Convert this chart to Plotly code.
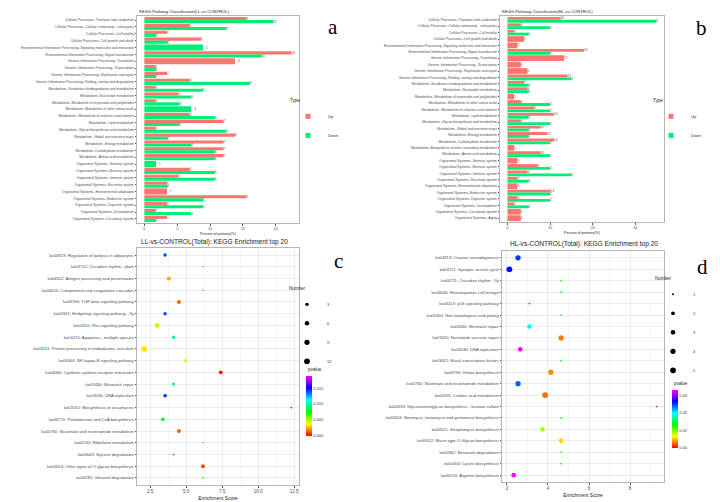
import math
import plotly.graph_objects as go

W, H = 720, 502

# ---------------- Panel a: KEGG classification LL-vs-CONTROL ----------------
a_categories = [
    "Cellular Processes--Transport and catabolism",
    "Cellular Processes--Cellular community - eukaryotes",
    "Cellular Processes--Cell motility",
    "Cellular Processes--Cell growth and death",
    "Environmental Information Processing--Signaling molecules and interaction",
    "Environmental Information Processing--Signal transduction",
    "Genetic Information Processing--Translation",
    "Genetic Information Processing--Transcription",
    "Genetic Information Processing--Replication and repair",
    "Genetic Information Processing--Folding, sorting and degradation",
    "Metabolism--Xenobiotics biodegradation and metabolism",
    "Metabolism--Nucleotide metabolism",
    "Metabolism--Metabolism of terpenoids and polyketides",
    "Metabolism--Metabolism of other amino acids",
    "Metabolism--Metabolism of cofactors and vitamins",
    "Metabolism--Lipid metabolism",
    "Metabolism--Glycan biosynthesis and metabolism",
    "Metabolism--Global and overview maps",
    "Metabolism--Energy metabolism",
    "Metabolism--Carbohydrate metabolism",
    "Metabolism--Amino acid metabolism",
    "Organismal Systems--Sensory system",
    "Organismal Systems--Nervous system",
    "Organismal Systems--Immune system",
    "Organismal Systems--Excretory system",
    "Organismal Systems--Environmental adaptation",
    "Organismal Systems--Endocrine system",
    "Organismal Systems--Digestive system",
    "Organismal Systems--Development",
    "Organismal Systems--Circulatory system",
]
a_up_counts = [9, 4, 2, 5, 0, 13, 8, 1, 2, 4, 1, 3, 1, 0, 4, 7, 1, 8, 7, 7, 7, 0, 4, 3, 2, 2, 9, 2, 1, 2]
a_down_counts = [11, 7, 1, 2, 5, 10, 0, 1, 1, 9, 5, 4, 3, 4, 6, 3, 7, 2, 4, 6, 6, 1, 6, 6, 2, 0, 5, 5, 4, 1]
a_up_total = 58
a_down_total = 56

# ---------------- Panel b: KEGG classification HL-vs-CONTROL ----------------
b_categories = [
    "Cellular Processes--Transport and catabolism",
    "Cellular Processes--Cellular community - eukaryotes",
    "Cellular Processes--Cell motility",
    "Cellular Processes--Cell growth and death",
    "Environmental Information Processing--Signaling molecules and interaction",
    "Environmental Information Processing--Signal transduction",
    "Genetic Information Processing--Translation",
    "Genetic Information Processing--Transcription",
    "Genetic Information Processing--Replication and repair",
    "Genetic Information Processing--Folding, sorting and degradation",
    "Metabolism--Xenobiotics biodegradation and metabolism",
    "Metabolism--Nucleotide metabolism",
    "Metabolism--Metabolism of terpenoids and polyketides",
    "Metabolism--Metabolism of other amino acids",
    "Metabolism--Metabolism of cofactors and vitamins",
    "Metabolism--Lipid metabolism",
    "Metabolism--Glycan biosynthesis and metabolism",
    "Metabolism--Global and overview maps",
    "Metabolism--Energy metabolism",
    "Metabolism--Carbohydrate metabolism",
    "Metabolism--Biosynthesis of other secondary metabolites",
    "Metabolism--Amino acid metabolism",
    "Organismal Systems--Sensory system",
    "Organismal Systems--Nervous system",
    "Organismal Systems--Immune system",
    "Organismal Systems--Excretory system",
    "Organismal Systems--Environmental adaptation",
    "Organismal Systems--Endocrine system",
    "Organismal Systems--Digestive system",
    "Organismal Systems--Development",
    "Organismal Systems--Circulatory system",
    "Organismal Systems--Aging",
]
b_up_counts = [16, 4, 2, 5, 3, 23, 17, 4, 6, 18, 5, 6, 2, 4, 8, 14, 4, 10, 12, 14, 2, 10, 3, 9, 6, 3, 3, 13, 3, 2, 4, 4]
b_down_counts = [7, 2, 1, 0, 0, 2, 0, 0, 0, 3, 1, 1, 0, 2, 2, 1, 2, 1, 1, 2, 0, 2, 0, 2, 3, 1, 0, 2, 2, 1, 0, 0]
b_up_total = 128
b_down_total = 20

# ---------------- Panel c: LL-vs-CONTROL enrichment ----------------
c_pathways = [
    "ko04923: Regulation of lipolysis in adipocytes",
    "ko04712: Circadian rhythm - plant",
    "ko04612: Antigen processing and presentation",
    "ko04610: Complement and coagulation cascades",
    "ko04350: TGF-beta signaling pathway",
    "ko04341: Hedgehog signaling pathway - fly",
    "ko04310: Wnt signaling pathway",
    "ko04215: Apoptosis - multiple species",
    "ko04141: Protein processing in endoplasmic reticulum",
    "ko04064: NF-kappa B signaling pathway",
    "ko04060: Cytokine-cytokine receptor interaction",
    "ko03430: Mismatch repair",
    "ko03030: DNA replication",
    "ko01051: Biosynthesis of ansamycins",
    "ko00770: Pantothenate and CoA biosynthesis",
    "ko00760: Nicotinate and nicotinamide metabolism",
    "ko00740: Riboflavin metabolism",
    "ko00643: Styrene degradation",
    "ko00514: Other types of O-glycan biosynthesis",
    "ko00281: Geraniol degradation",
]
c_score = [3.54, 6.17, 3.8, 6.17, 4.5, 3.54, 2.99, 4.13, 2.1, 4.95, 7.4, 4.13, 3.54, 12.3, 3.38, 4.5, 6.17, 4.13, 6.17, 6.17]
c_number = [3, 1, 5, 1, 5, 3, 7, 3, 12, 3, 4, 3, 3, 1, 4, 5, 1, 1, 4, 1]
c_pvalue = [0.014, 0.0068, 0.0025, 0.0068, 0.0015, 0.014, 0.0045, 0.0094, 0.0034, 0.0043,
            0.0004, 0.0094, 0.0145, 0.0002, 0.0083, 0.0015, 0.0068, 0.0188, 0.001, 0.0068]
c_number_breaks = [3, 6, 9, 12]
c_p_ticks = [0.0, 0.005, 0.010, 0.015]

# ---------------- Panel d: HL-vs-CONTROL enrichment ----------------
d_pathways = [
    "ko04913: Ovarian steroidogenesis",
    "ko04721: Synaptic vesicle cycle",
    "ko04711: Circadian rhythm - fly",
    "ko04640: Hematopoietic cell lineage",
    "ko04115: p53 signaling pathway",
    "ko03450: Non-homologous end-joining",
    "ko03430: Mismatch repair",
    "ko03420: Nucleotide excision repair",
    "ko03030: DNA replication",
    "ko03022: Basal transcription factors",
    "ko00790: Folate biosynthesis",
    "ko00760: Nicotinate and nicotinamide metabolism",
    "ko00591: Linoleic acid metabolism",
    "ko00533: Glycosaminoglycan biosynthesis - keratan sulfate",
    "ko00524: Neomycin, kanamycin and gentamicin biosynthesis",
    "ko00521: Streptomycin biosynthesis",
    "ko00512: Mucin type O-Glycan biosynthesis",
    "ko00362: Benzoate degradation",
    "ko00300: Lysine biosynthesis",
    "ko00220: Arginine biosynthesis",
]
d_score = [2.54, 2.12, 4.64, 4.64, 3.1, 4.64, 3.1, 4.64, 2.65, 4.64, 4.14, 2.54, 3.86, 9.29, 4.64, 3.73, 4.64, 4.64, 4.64, 2.33]
d_number = [4, 5, 1, 1, 1, 1, 3, 4, 3, 1, 4, 4, 5, 1, 1, 3, 3, 1, 1, 3]
d_pvalue = [0.025, 0.026, 0.013, 0.013, 0.033, 0.013, 0.02, 0.003, 0.033, 0.013,
            0.0035, 0.024, 0.0028, 0.0003, 0.013, 0.009, 0.0055, 0.013, 0.013, 0.033]
d_number_breaks = [1, 2, 3, 4, 5]
d_p_ticks = [0.0, 0.01, 0.02, 0.03]

# ---------------- styling ----------------
UP_COLOR = "#F8766D"
DOWN_COLOR = "#00EE76"
FONT = "Liberation Sans, Arial, sans-serif"
RAINBOW = [[0.0, "#FF0000"], [0.2, "#FFFF00"], [0.4, "#00FF00"],
           [0.6, "#00FFFF"], [0.8, "#0000FF"], [1.0, "#FF00FF"]]
BORDER = "#B5B5B5"
GRID = "#EBEBEB"
TICKTXT = "#4D4D4D"


def dx(x0, x1):
    return [x0 / W, x1 / W]


def dy(y0, y1):
    return [1 - y1 / H, 1 - y0 / H]


fig = go.Figure()


def add_bar_panel(cats, up, down, up_tot, down_tot, xa, ya, legend):
    up_pct = [u / up_tot * 100 if u else None for u in up]
    down_pct = [d / down_tot * 100 if d else None for d in down]
    up_off = [-0.45 for _ in up]
    up_w = [0.45 if d else 0.9 for d in down]
    down_off = [0.0 if u else -0.45 for u in up]
    down_w = [0.45 if u else 0.9 for u in up]
    for vals, cnt, off, wid, col in [(up_pct, up, up_off, up_w, UP_COLOR),
                                     (down_pct, down, down_off, down_w, DOWN_COLOR)]:
        fig.add_trace(go.Bar(
            y=cats, x=vals, orientation="h", offset=off, width=wid,
            marker=dict(color=col, line=dict(width=0)),
            text=[str(c) if c else "" for c in cnt], textposition="outside",
            textfont=dict(size=3, color="#555555", family=FONT),
            constraintext="none", cliponaxis=False,
            xaxis=xa, yaxis=ya, showlegend=False, hoverinfo="skip"))
    for name, col in [("Up", UP_COLOR), ("Down", DOWN_COLOR)]:
        fig.add_trace(go.Scatter(
            x=[None], y=[None], mode="markers", name=name,
            marker=dict(symbol="square", size=5, color=col),
            xaxis=xa, yaxis=ya, legend=legend, showlegend=True))


def size_map(n, lo, hi, dmin=1.7, dmax=5.8):
    return dmin + (dmax - dmin) * math.sqrt((n - lo) / (hi - lo))


def add_dot_panel(paths, score, number, pvalue, breaks, xa, ya, legend, cax):
    lo, hi = min(number), max(number)
    fig.add_trace(go.Scatter(
        x=score, y=paths, mode="markers",
        marker=dict(size=[size_map(n, lo, hi) for n in number], color=pvalue,
                    coloraxis=cax, line=dict(width=0), opacity=1),
        xaxis=xa, yaxis=ya, showlegend=False, hoverinfo="skip"))
    for b in breaks:
        fig.add_trace(go.Scatter(
            x=[None], y=[None], mode="markers", name=str(b),
            marker=dict(size=size_map(b, lo, hi), color="black"),
            xaxis=xa, yaxis=ya, legend=legend, showlegend=True))


add_bar_panel(a_categories, a_up_counts, a_down_counts, a_up_total, a_down_total, "x", "y", "legend")
add_bar_panel(b_categories, b_up_counts, b_down_counts, b_up_total, b_down_total, "x2", "y2", "legend2")
add_dot_panel(c_pathways, c_score, c_number, c_pvalue, c_number_breaks, "x3", "y3", "legend3", "coloraxis")
add_dot_panel(d_pathways, d_score, d_number, d_pvalue, d_number_breaks, "x4", "y4", "legend4", "coloraxis2")


def bar_xaxis(domain, rng, tickvals, anchor):
    return dict(domain=domain, range=rng, tickvals=tickvals, anchor=anchor,
                ticks="outside", ticklen=2, tickwidth=0.5, tickcolor="#555555",
                tickfont=dict(size=3.6, color=TICKTXT, family=FONT),
                showgrid=False, zeroline=False, showline=True, mirror=True,
                linecolor=BORDER, linewidth=0.8,
                title=dict(text="Percent of proteins(%)", standoff=2,
                           font=dict(size=3.6, color="#222222", family=FONT)))


def cat_yaxis(domain, cats, anchor, fsize, grid):
    n = len(cats)
    return dict(domain=domain, type="category", categoryorder="array", categoryarray=cats,
                range=[n - 0.4, -0.6], anchor=anchor,
                ticks="outside", ticklen=1.5, tickwidth=0.5, tickcolor="#555555",
                tickfont=dict(size=fsize, color=TICKTXT, family=FONT),
                showgrid=grid, gridcolor=GRID, gridwidth=0.6,
                zeroline=False, showline=True, mirror=True, linecolor=BORDER, linewidth=0.8)


def dot_xaxis(domain, rng, tick0, dtick, fmt, anchor):
    return dict(domain=domain, range=rng, anchor=anchor, tickmode="linear",
                tick0=tick0, dtick=dtick, tickformat=fmt,
                ticks="outside", ticklen=2, tickwidth=0.5, tickcolor="#555555",
                tickfont=dict(size=4.5, color=TICKTXT, family=FONT),
                showgrid=True, gridcolor=GRID, gridwidth=0.6,
                minor=dict(tickmode="linear", tick0=tick0 / 2, dtick=dtick / 2,
                           showgrid=True, gridcolor="#F4F4F4", gridwidth=0.4),
                zeroline=False, showline=True, mirror=True, linecolor=BORDER, linewidth=0.8,
                title=dict(text="Enrichment Score", standoff=3,
                           font=dict(size=5, color="#222222", family=FONT)))


def legend_box(x_px, y_px, title):
    return dict(x=x_px / W, y=1 - y_px / H, xanchor="left", yanchor="top",
                title=dict(text=title, font=dict(size=4.5, color="#222222", family=FONT)),
                font=dict(size=4, color="#333333", family=FONT),
                bgcolor="rgba(0,0,0,0)", itemsizing="trace", tracegroupgap=0,
                itemclick=False, itemdoubleclick=False)


def colorbar(x_px, y_px, len_px, ticks, fmt, pmax):
    return dict(cmin=0, cmax=pmax, colorscale=RAINBOW, showscale=True,
                colorbar=dict(x=x_px / W, xanchor="left", y=1 - y_px / H, yanchor="top",
                              len=len_px, lenmode="pixels", thickness=6,
                              xpad=0, ypad=0, outlinewidth=0,
                              tickvals=ticks, ticktext=[format(t, fmt) for t in ticks],
                              ticks="", tickfont=dict(size=4, color="#333333", family=FONT),
                              title=dict(text="", side="right", font=dict(size=1))))


a_max = max(max(a_up_counts) / a_up_total, max(a_down_counts) / a_down_total) * 100
b_max = max(max(b_up_counts) / b_up_total, max(b_down_counts) / b_down_total) * 100

# colorbar placement (px): x, top of bar, bar length
C_CB = (306, 376, 60)
D_CB = (672, 390, 58)

annotations = [
    dict(text="KEGG Pathway Classification(LL-vs-CONTROL)", x=137 / W, y=1 - 12 / H,
         xanchor="left", yanchor="middle", font=dict(size=4.2, color="#222222", family=FONT)),
    dict(text="KEGG Pathway Classification(HL-vs-CONTROL)", x=500 / W, y=1 - 12 / H,
         xanchor="left", yanchor="middle", font=dict(size=4.2, color="#222222", family=FONT)),
    dict(text="LL-vs-CONTROL(Total): KEGG Enrichment top 20", x=139 / W, y=1 - 242 / H,
         xanchor="left", yanchor="middle", font=dict(size=6.6, color="#222222", family=FONT)),
    dict(text="HL-vs-CONTROL(Total): KEGG Enrichment top 20", x=508 / W, y=1 - 244 / H,
         xanchor="left", yanchor="middle", font=dict(size=6.6, color="#222222", family=FONT)),
    dict(text="pvalue", x=C_CB[0] / W, y=1 - (C_CB[1] - 2) / H, xanchor="left", yanchor="bottom",
         font=dict(size=4.5, color="#222222", family=FONT)),
    dict(text="pvalue", x=D_CB[0] / W, y=1 - (D_CB[1] - 2) / H, xanchor="left", yanchor="bottom",
         font=dict(size=4.5, color="#222222", family=FONT)),
]
for letter, lx, ly in [("a", 333, 27), ("b", 701, 28), ("c", 338, 261), ("d", 702, 267)]:
    annotations.append(dict(text=letter, x=lx / W, y=1 - ly / H, xanchor="center", yanchor="middle",
                            font=dict(size=21, color="black",
                                      family="Liberation Serif, Times New Roman, serif")))
for ann in annotations:
    ann.update(xref="paper", yref="paper", showarrow=False)

fig.update_layout(
    width=W, height=H, margin=dict(l=0, r=0, t=0, b=0),
    paper_bgcolor="white", plot_bgcolor="white",
    barmode="overlay", font=dict(family=FONT),
    xaxis=bar_xaxis(dx(137, 299), [-0.05 * a_max, 1.05 * a_max], [0, 5, 10, 15, 20], "y"),
    yaxis=cat_yaxis(dy(16, 223), a_categories, "x", 3.4, False),
    xaxis2=bar_xaxis(dx(500, 664), [-0.05 * b_max, 1.05 * b_max], [0, 10, 20, 30], "y2"),
    yaxis2=cat_yaxis(dy(16, 222), b_categories, "x2", 3.4, False),
    xaxis3=dot_xaxis(dx(137, 299), [1.59, 12.83], 2.5, 2.5, ".1f", "y3"),
    yaxis3=cat_yaxis(dy(248, 485), c_pathways, "x3", 4.2, True),
    xaxis4=dot_xaxis(dx(502, 664), [1.76, 9.65], 2, 2, "d", "y4"),
    yaxis4=cat_yaxis(dy(251, 482), d_pathways, "x4", 4.2, True),
    legend=legend_box(288, 96, "Type"),
    legend2=legend_box(651, 96, "Type"),
    legend3=legend_box(287, 284, "Number"),
    legend4=legend_box(653, 274, "Number"),
    coloraxis=colorbar(C_CB[0], C_CB[1], C_CB[2], c_p_ticks, ".3f", max(c_pvalue)),
    coloraxis2=colorbar(D_CB[0], D_CB[1], D_CB[2], d_p_ticks, ".2f", max(d_pvalue)),
    annotations=annotations,
)

fig.write_html("out.html")
